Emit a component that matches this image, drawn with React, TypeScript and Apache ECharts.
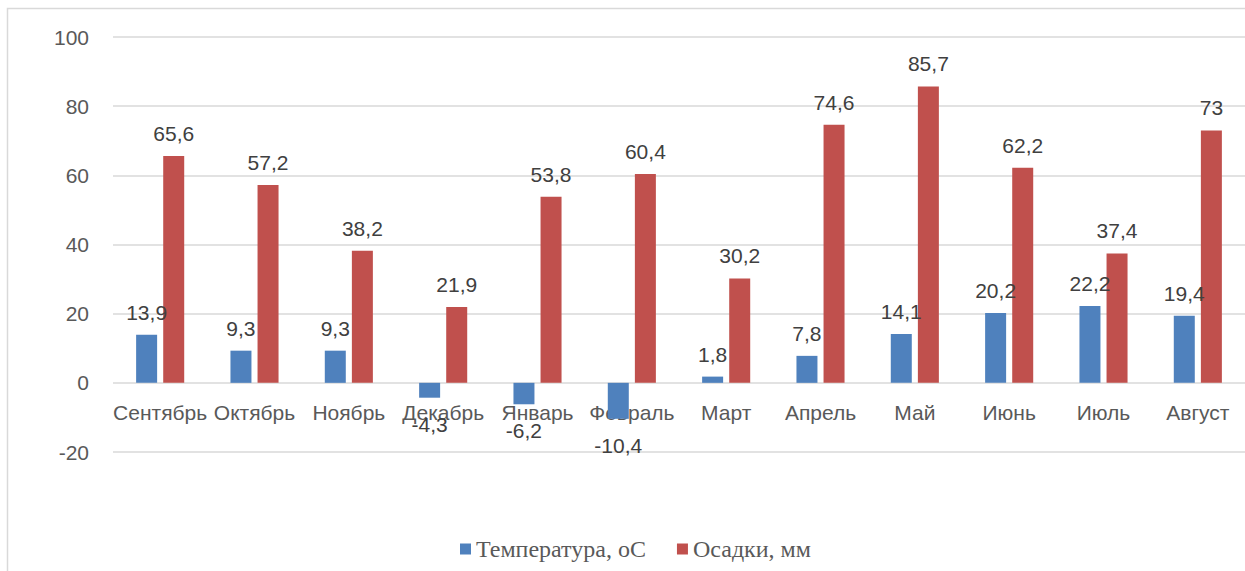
import React, { useEffect, useRef } from "react";
import * as echarts from "echarts";

const categories = ["Сентябрь", "Октябрь", "Ноябрь", "Декабрь", "Январь", "Февраль", "Март", "Апрель", "Май", "Июнь", "Июль", "Август"];
const temperature = [13.9, 9.3, 9.3, -4.3, -6.2, -10.4, 1.8, 7.8, 14.1, 20.2, 22.2, 19.4];
const precipitation = [65.6, 57.2, 38.2, 21.9, 53.8, 60.4, 30.2, 74.6, 85.7, 62.2, 37.4, 73];
const seriesNames = ["Температура, оС", "Осадки, мм"];

const fmt = (v: number) => String(v).replace(".", ",");

export default function App() {
  const ref = useRef<HTMLDivElement>(null);
  useEffect(() => {
    document.body.style.margin = "0";
    const chart = echarts.init(ref.current!, undefined, { renderer: "svg" });
    const font = "'Liberation Sans', Arial, sans-serif";
    const labelStyle = {
      show: true,
      fontFamily: font,
      fontSize: 21,
      color: "#404040",
      formatter: (p: any) => fmt(p.value),
    };
    chart.setOption({
      animation: false,
      backgroundColor: "#ffffff",
      graphic: [
        {
          type: "rect",
          shape: { x: 7.5, y: 8.5, width: 1400, height: 800 },
          style: { fill: "none", stroke: "#d9d9d9", lineWidth: 1.5 },
          silent: true,
        },
      ],
      legend: {
        left: 455,
        top: 532,
        itemWidth: 11,
        itemHeight: 11,
        itemGap: 31,
        icon: "rect",
        textStyle: { fontFamily: "'Liberation Serif', 'Times New Roman', serif", fontSize: 24, color: "#595959" },
        data: seriesNames,
      },
      grid: { left: 113, top: 37, width: 1142, height: 415, containLabel: false },
      xAxis: {
        type: "category",
        data: categories,
        offset: -69,
        axisLine: { show: false },
        axisTick: { show: false },
        axisLabel: { fontFamily: font, fontSize: 21, color: "#595959", margin: 19, interval: 0 },
      },
      yAxis: {
        type: "value",
        min: -20,
        max: 100,
        interval: 20,
        axisLine: { show: false },
        axisTick: { show: false },
        splitLine: { lineStyle: { color: "#d9d9d9", width: 1.5 } },
        axisLabel: { fontFamily: font, fontSize: 21, color: "#595959", margin: 24 },
      },
      series: [
        {
          name: seriesNames[0],
          type: "bar",
          data: temperature.map((v) => ({
            value: v,
            label: { ...labelStyle, position: v < 0 ? "bottom" : "top", distance: v < 0 ? 16 : 12 },
          })),
          barWidth: 21,
          barGap: "29%",
          itemStyle: { color: "#4F81BD" },
        },
        {
          name: seriesNames[1],
          type: "bar",
          data: precipitation,
          barWidth: 21,
          itemStyle: { color: "#C0504D" },
          label: { ...labelStyle, position: "top", distance: 12 },
        },
      ],
    });
    return () => chart.dispose();
  }, []);
  return <div ref={ref} style={{ width: 1245, height: 571 }} />;
}
